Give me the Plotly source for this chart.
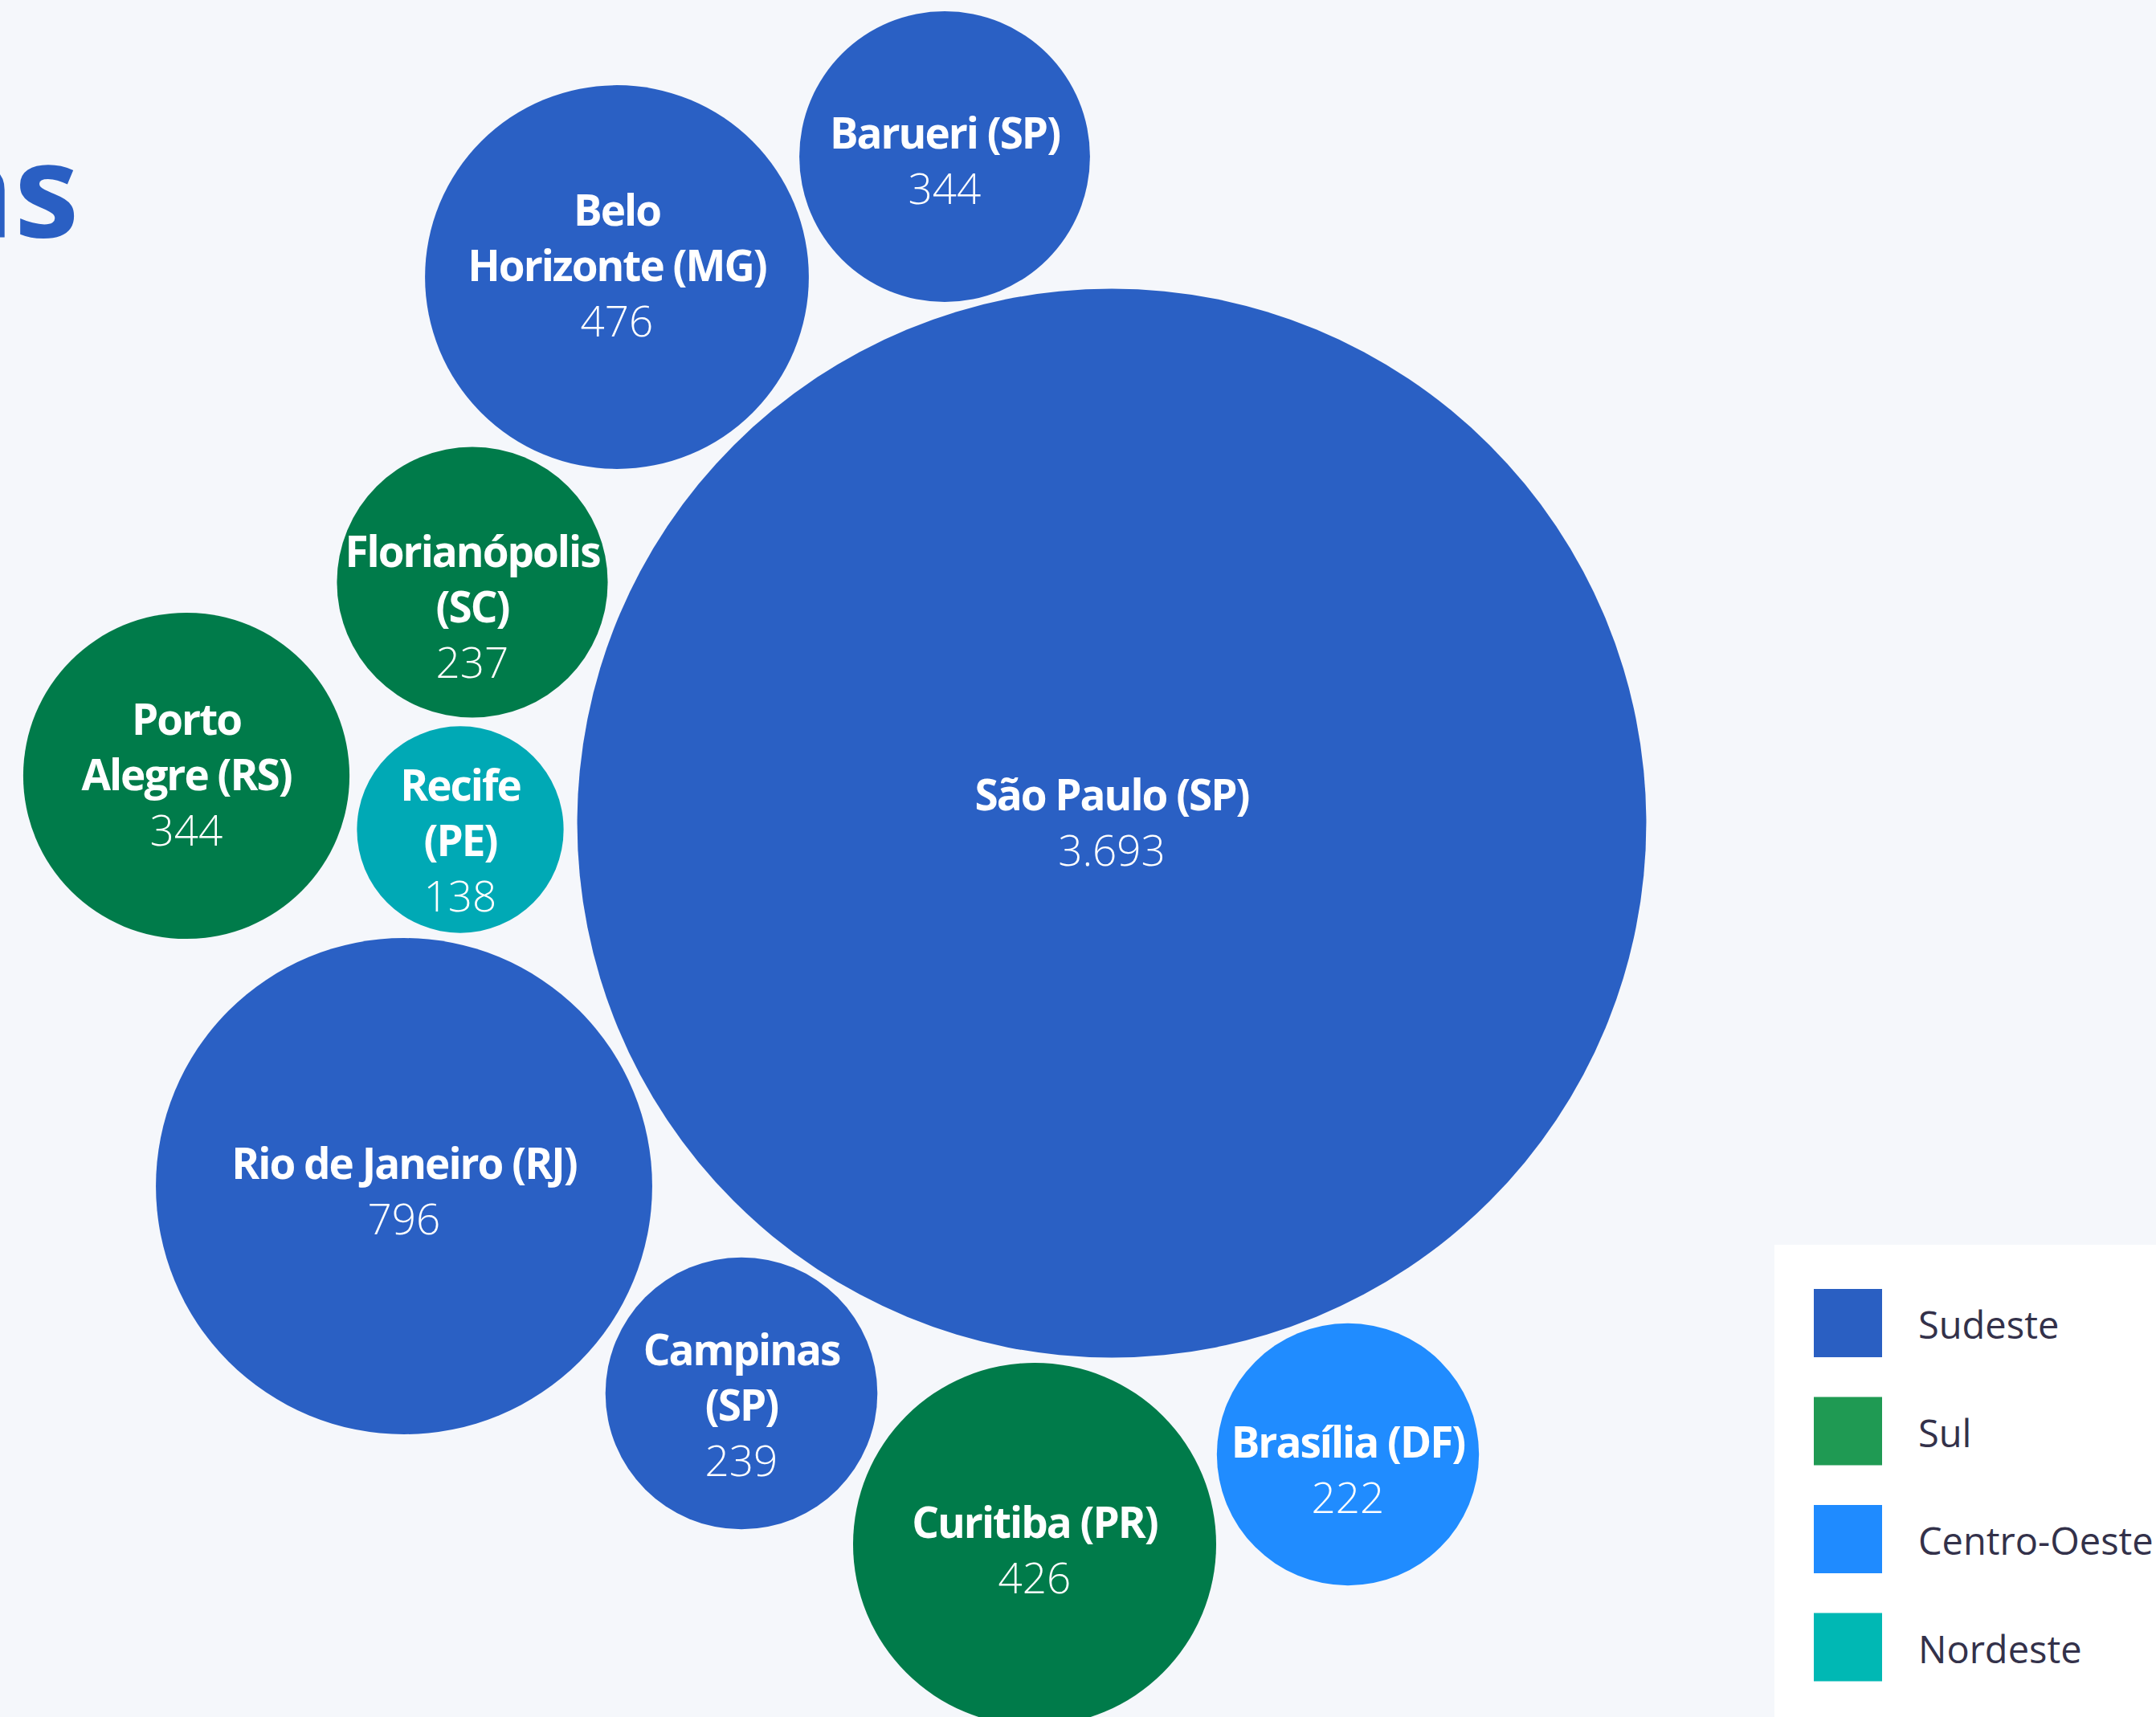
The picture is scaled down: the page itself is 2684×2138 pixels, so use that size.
import math
import plotly.graph_objects as go

# ---------------- data ----------------
cities = ["São Paulo (SP)", "Rio de Janeiro (RJ)", "Belo Horizonte (MG)", "Curitiba (PR)",
          "Barueri (SP)", "Porto Alegre (RS)", "Campinas (SP)", "Florianópolis (SC)",
          "Brasília (DF)", "Recife (PE)"]
label_names = ["São Paulo (SP)", "Rio de Janeiro (RJ)", "Belo<br>Horizonte (MG)", "Curitiba (PR)",
               "Barueri (SP)", "Porto<br>Alegre (RS)", "Campinas<br>(SP)", "Florianópolis<br>(SC)",
               "Brasília (DF)", "Recife<br>(PE)"]
regions = ["Sudeste", "Sudeste", "Sudeste", "Sul", "Sudeste", "Sul", "Sudeste", "Sul",
           "Centro-Oeste", "Nordeste"]
values = [3693, 796, 476, 426, 344, 344, 239, 237, 222, 138]
# bubble area as drawn in the picture (Barueri is drawn smaller than its label)
bubble_size = [3693, 796, 476, 426, 273, 344, 239, 237, 222, 138]
# packed-bubble centres (layout result)
center_x = [1384, 503, 768, 1288, 1176, 232, 923, 588, 1678, 573]
center_y = [1025, 1477, 345, 1923, 195, 966, 1735, 725, 1811, 1033]

legend_regions = ["Sudeste", "Sul", "Centro-Oeste", "Nordeste"]

# ---------------- style ----------------
W, H = 2684, 2138
BG = "#F5F7FB"
bubble_colors = {"Sudeste": "#2A60C4", "Sul": "#007B4A", "Centro-Oeste": "#208CFF", "Nordeste": "#00A9B5"}
legend_colors = {"Sudeste": "#2A5FC2", "Sul": "#1F9A53", "Centro-Oeste": "#1F8BFF", "Nordeste": "#00B8B4"}
label_dy = [5, 12, -8, 13, 11, 5, 21, 37, 25, 20]
PX_PER_SQRT = 10.95
FONT = "Open Sans"
NAME_STYLE = "font-weight:700;letter-spacing:-2px"


def fmt(v):
    return f"{v:,}".replace(",", ".")


fig = go.Figure()

for reg in legend_regions:
    idx = [i for i, r in enumerate(regions) if r == reg]
    fig.add_trace(go.Scatter(
        x=[center_x[i] for i in idx],
        y=[center_y[i] for i in idx],
        mode="markers",
        name=reg,
        marker=dict(size=[2 * PX_PER_SQRT * math.sqrt(bubble_size[i]) for i in idx],
                    sizemode="diameter", color=bubble_colors[reg], opacity=1,
                    line=dict(width=0)),
        hoverinfo="skip",
        showlegend=False,
    ))

fig.add_trace(go.Scatter(
    x=center_x,
    y=[cy + d for cy, d in zip(center_y, label_dy)],
    mode="text",
    text=[f'<span style="{NAME_STYLE}">' + n.replace("<br>", f'</span><br><span style="{NAME_STYLE}">')
          + f"</span><br>{fmt(v)}" for n, v in zip(label_names, values)],
    textposition="middle center",
    textfont=dict(family=FONT, size=53, color="white", weight=300),
    hoverinfo="skip",
    showlegend=False,
))

shapes = []
annotations = []
# legend panel
shapes.append(dict(type="rect", xref="x", yref="y", x0=2209, x1=W + 10, y0=1550, y1=H + 10,
                   fillcolor="white", line=dict(width=0), layer="above"))
for k, reg in enumerate(legend_regions):
    y0 = 1605 + k * 134.5
    shapes.append(dict(type="rect", xref="x", yref="y", x0=2258, x1=2343, y0=y0, y1=y0 + 85,
                       fillcolor=legend_colors[reg], line=dict(width=0), layer="above"))
    annotations.append(dict(x=2386, y=y0 + 44, xref="x", yref="y", text=reg, showarrow=False,
                            xanchor="left", yanchor="middle",
                            font=dict(family=FONT, size=47, color="#33314A", weight=500)))

# title (mostly outside the visible area)
annotations.append(dict(x=100, y=232, xref="x", yref="y", text="<b>Startups brasileiras</b>",
                        showarrow=False, xanchor="right", yanchor="middle",
                        font=dict(family=FONT, size=162, color="#2A5FC3", weight=800)))

fig.update_layout(
    width=W, height=H,
    margin=dict(l=0, r=0, t=0, b=0),
    paper_bgcolor=BG, plot_bgcolor=BG,
    xaxis=dict(range=[0, W], visible=False, fixedrange=True),
    yaxis=dict(range=[H, 0], visible=False, fixedrange=True),
    shapes=shapes, annotations=annotations,
    showlegend=False,
)

fig.write_html("out.html", config=dict(displayModeBar=False),
               post_script="document.body.style.margin='0';document.body.style.overflow='hidden';")
